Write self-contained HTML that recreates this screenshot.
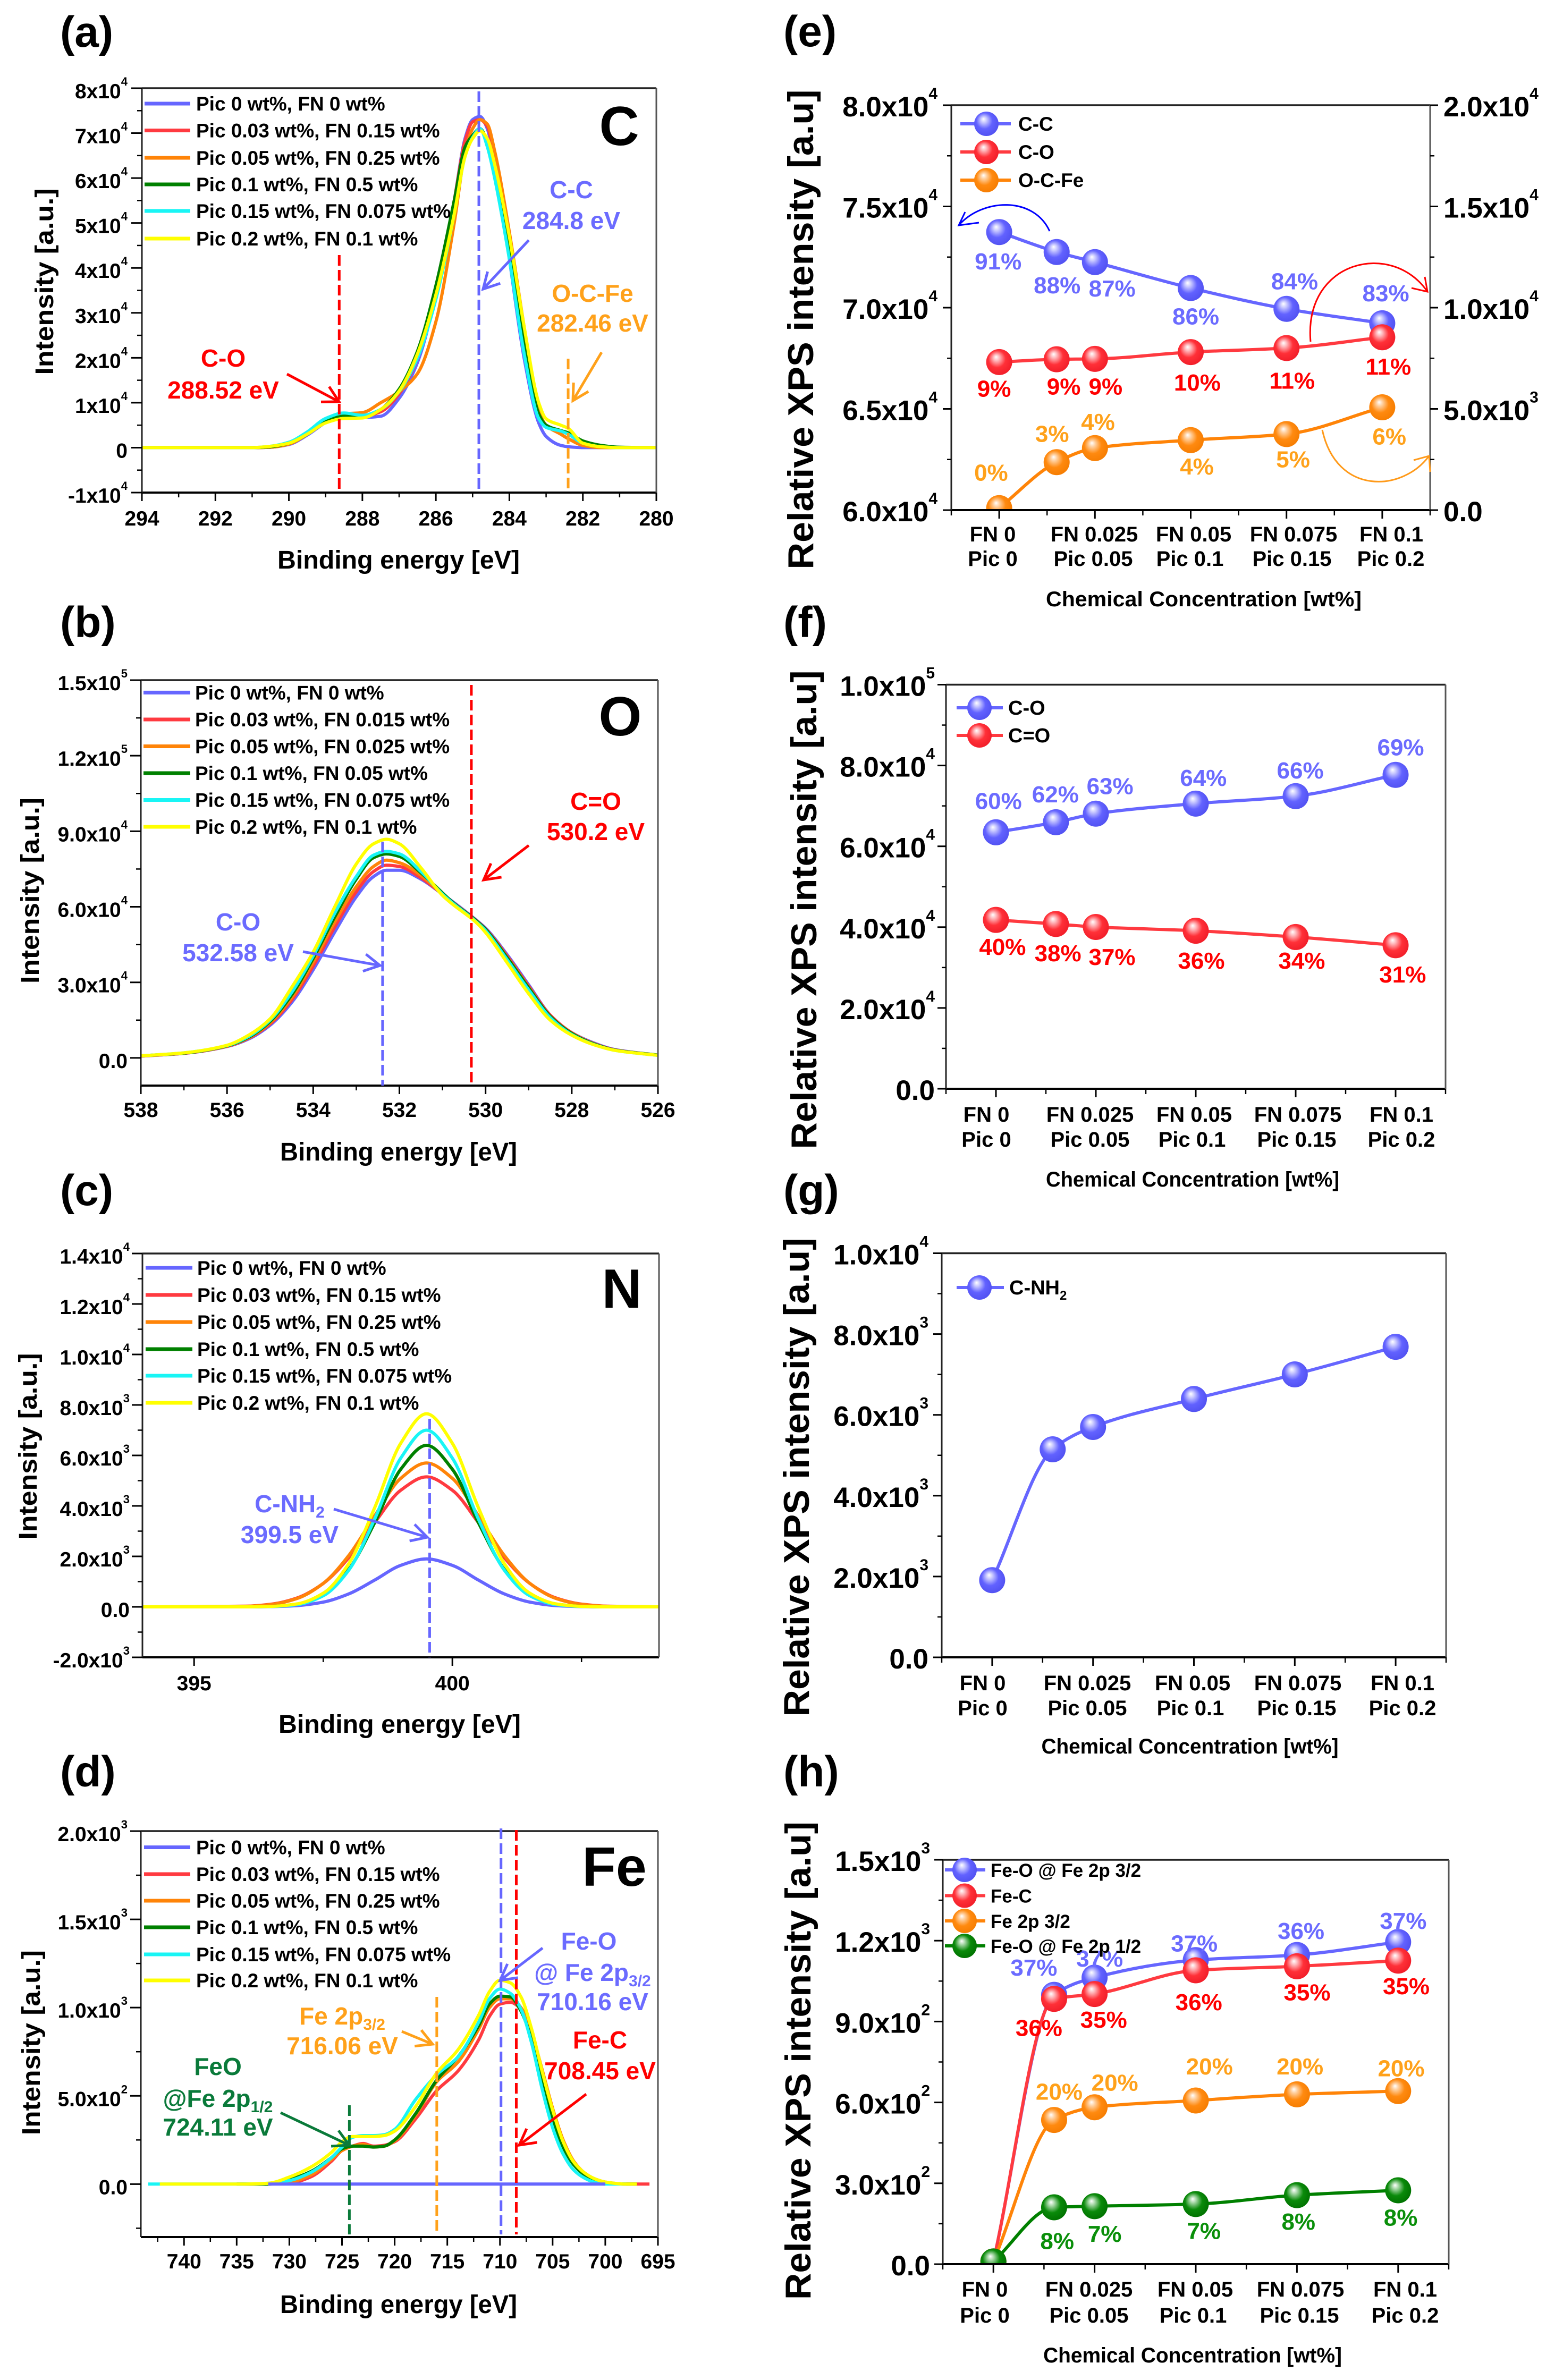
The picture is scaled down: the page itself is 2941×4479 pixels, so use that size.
<!DOCTYPE html>
<html lang="en">
<head>
<meta charset="utf-8">
<title>XPS spectra and relative intensity panels</title>
<style>
html,body{margin:0;padding:0;background:#fff;}
svg{display:block;font-family:"Liberation Sans",sans-serif;font-weight:bold;}
</style>
</head>
<body>
<svg id="fig" xmlns="http://www.w3.org/2000/svg" width="2941" height="4479" viewBox="0 0 2941 4479">
<defs>
<radialGradient id="sph-blue" cx="0.45" cy="0.45" r="0.6" fx="0.38" fy="0.3"><stop offset="0" stop-color="#ffffff"/><stop offset="0.2" stop-color="#c9c9ff"/><stop offset="0.55" stop-color="#6262ff"/><stop offset="1" stop-color="#5050f0"/></radialGradient>
<radialGradient id="sph-red" cx="0.45" cy="0.45" r="0.6" fx="0.38" fy="0.3"><stop offset="0" stop-color="#ffffff"/><stop offset="0.2" stop-color="#ffb8bc"/><stop offset="0.55" stop-color="#ff3038"/><stop offset="1" stop-color="#f01c28"/></radialGradient>
<radialGradient id="sph-orange" cx="0.45" cy="0.45" r="0.6" fx="0.38" fy="0.3"><stop offset="0" stop-color="#ffffff"/><stop offset="0.2" stop-color="#ffd0a0"/><stop offset="0.55" stop-color="#ff8a10"/><stop offset="1" stop-color="#f57c00"/></radialGradient>
<radialGradient id="sph-green" cx="0.45" cy="0.45" r="0.6" fx="0.38" fy="0.3"><stop offset="0" stop-color="#ffffff"/><stop offset="0.2" stop-color="#a8d8a8"/><stop offset="0.55" stop-color="#0a8a0a"/><stop offset="1" stop-color="#007000"/></radialGradient>
</defs>
<rect x="0" y="0" width="2941" height="4479" fill="#ffffff"/>
<g id="marks"></g>

<g font-size="82" fill="#000">
<text x="113" y="88">(a)</text>
<text x="113" y="1199">(b)</text>
<text x="113" y="2268">(c)</text>
<text x="113" y="3362">(d)</text>
<text x="1474" y="87">(e)</text>
<text x="1474" y="1199">(f)</text>
<text x="1474" y="2268">(g)</text>
<text x="1474" y="3362">(h)</text>
</g>

<g font-size="104" fill="#000" text-anchor="middle">
<text x="1165" y="273">C</text>
<text x="1167" y="1384">O</text>
<text x="1170" y="2461">N</text>
<text x="1156" y="3549">Fe</text>
</g>

<g fill="#000">
<g font-size="48" text-anchor="middle">
<text x="750" y="1070" textLength="456" lengthAdjust="spacingAndGlyphs">Binding energy [eV]</text>
<text x="750" y="2184" textLength="446" lengthAdjust="spacingAndGlyphs">Binding energy [eV]</text>
<text x="752" y="3261" textLength="456" lengthAdjust="spacingAndGlyphs">Binding energy [eV]</text>
<text x="750" y="4353" textLength="446" lengthAdjust="spacingAndGlyphs">Binding energy [eV]</text>
<text transform="translate(100,530) rotate(-90)" textLength="351" lengthAdjust="spacingAndGlyphs">Intensity [a.u.]</text>
<text transform="translate(73,1676) rotate(-90)" textLength="350" lengthAdjust="spacingAndGlyphs">Intensity [a.u.]</text>
<text transform="translate(69,2722) rotate(-90)" textLength="351" lengthAdjust="spacingAndGlyphs">Intensity [a.u.]</text>
<text transform="translate(75,3844) rotate(-90)" textLength="348" lengthAdjust="spacingAndGlyphs">Intensity [a.u.]</text>
</g>
<g font-size="68" text-anchor="middle">
<text transform="translate(1530,620) rotate(-90)" textLength="903" lengthAdjust="spacingAndGlyphs">Relative XPS intensity [a.u]</text>
<text transform="translate(1536,1712) rotate(-90)" textLength="901" lengthAdjust="spacingAndGlyphs">Relative XPS intensity [a.u]</text>
<text transform="translate(1522,2780) rotate(-90)" textLength="901" lengthAdjust="spacingAndGlyphs">Relative XPS intensity [a.u]</text>
<text transform="translate(1525,3878) rotate(-90)" textLength="900" lengthAdjust="spacingAndGlyphs">Relative XPS intensity [a.u]</text>
</g>
<g font-size="40" text-anchor="middle">
<text x="2265" y="1141" textLength="594" lengthAdjust="spacingAndGlyphs">Chemical Concentration [wt%]</text>
<text x="2244" y="2233" textLength="552" lengthAdjust="spacingAndGlyphs">Chemical Concentration [wt%]</text>
<text x="2239" y="3300" textLength="559" lengthAdjust="spacingAndGlyphs">Chemical Concentration [wt%]</text>
<text x="2244" y="4446" textLength="562" lengthAdjust="spacingAndGlyphs">Chemical Concentration [wt%]</text>
</g>
</g>

<g font-size="46" text-anchor="middle">
<g fill="#ff0000"><text x="420" y="690">C-O</text><text x="420" y="750">288.52 eV</text></g>
<g fill="#6b6bff"><text x="1075" y="373">C-C</text><text x="1075" y="431">284.8 eV</text></g>
<g fill="#ffa11a"><text x="1115" y="568">O-C-Fe</text><text x="1115" y="624">282.46 eV</text></g>
<g fill="#ff0000"><text x="1121" y="1524">C=O</text><text x="1121" y="1581">530.2 eV</text></g>
<g fill="#6b6bff"><text x="448" y="1751">C-O</text><text x="448" y="1809">532.58 eV</text></g>
<g fill="#6b6bff"><text x="545" y="2846">C-NH<tspan font-size="30" dy="10">2</tspan></text><text x="545" y="2904">399.5 eV</text></g>
<g fill="#6b6bff"><text x="1108" y="3669">Fe-O</text><text x="1115" y="3728">@ Fe 2p<tspan font-size="30" dy="10">3/2</tspan></text><text x="1115" y="3783">710.16 eV</text></g>
<g fill="#ff0000"><text x="1129" y="3855">Fe-C</text><text x="1129" y="3913">708.45 eV</text></g>
<g fill="#ffa11a"><text x="644" y="3810">Fe 2p<tspan font-size="30" dy="10">3/2</tspan></text><text x="644" y="3866">716.06 eV</text></g>
<g fill="#0a7a3a"><text x="410" y="3905">FeO</text><text x="410" y="3965">@Fe 2p<tspan font-size="30" dy="10">1/2</tspan></text><text x="410" y="4019">724.11 eV</text></g>
</g>

<g fill="none" stroke-width="3">
<path stroke="#0000ff" d="M1975 435C1945 369 1849 373 1804 424M1842 419L1804 424L1816 399"/>
<path stroke="#ff0000" d="M2466 643C2453 489 2620 452 2686 549M2656 542L2686 549L2681 521"/>
<path stroke="#ff9a1a" d="M2488 809C2515 933 2639 926 2689 858M2660 866L2689 858L2691 888"/>
</g>
<g id="arrows"></g>
</svg>

<script>
// Panel (a) C 1s
const aEnergy=[294,291,290.5,290,289.5,289,288.5,288,287.5,287,286.5,286,285.5,285.2,285,284.8,284.6,284.4,284,283.6,283.2,283,282.6,282.4,282,281.5,281,280];
const aBlue=[0,0,100,700,2800,5600,7500,6700,7000,11000,19000,34000,55000,69000,73000,73700,71000,63000,42000,20000,5500,2500,500,200,0,0,0,0];
const aRed=[0,0,100,800,3000,6000,7500,7000,8000,12000,20000,35000,55000,68500,72500,73000,71500,64000,45000,24000,8000,5000,3000,2000,600,50,0,0];
const aOrange=[0,0,100,800,3000,6000,7500,7800,10000,12500,16500,28000,50000,66000,71000,73000,72000,66000,48000,27000,8000,5000,3000,2000,500,0,0,0];
const aGreen=[0,0,200,1000,3000,6000,7200,6800,8500,13000,21500,36000,55000,67000,69500,71000,68000,61000,44000,24000,7500,5000,3800,3300,1500,500,100,0];
const aCyan=[0,0,300,1200,3500,6500,7700,7200,8500,12500,20000,33000,52000,65000,69000,71000,67000,60000,42000,21000,6500,4500,3700,3000,1000,200,0,0];
const aYellow=[0,0,300,1000,3000,5500,6500,6600,8500,12600,20900,34000,52000,65000,68800,70500,68800,63000,47000,27000,10000,6400,5000,4300,1000,200,0,0];
const aPeaks=[288.63,284.83,282.4];
const aXTicks=[294,292,290,288,286,284,282,280];
const aXMinor=[293,291,289,287,285,283,281];
const aYTicks=[-10000,0,10000,20000,30000,40000,50000,60000,70000,80000];
const aYLabels=['-1x10|4','0','1x10|4','2x10|4','3x10|4','4x10|4','5x10|4','6x10|4','7x10|4','8x10|4'];
const aYMinor=[-5000,5000,15000,25000,35000,45000,55000,65000,75000];
const aLegend=['Pic 0 wt%, FN 0 wt%','Pic 0.03 wt%, FN 0.15 wt%','Pic 0.05 wt%, FN 0.25 wt%','Pic 0.1 wt%, FN 0.5 wt%','Pic 0.15 wt%, FN 0.075 wt%','Pic 0.2 wt%, FN 0.1 wt%'];

// Panel (b) O 1s
const bEnergy=[538,537,536,535.5,535,534.5,534,533.5,533,532.6,532.3,532,531.5,531,530.8,530.2,530,529.5,529,528.5,528,527.5,527,526];
const bBlue=[700,1800,4500,7500,13000,22000,35000,50000,64000,72000,74500,74500,71000,65000,62500,54500,51500,41000,29000,17000,10000,6000,3300,1100];
const bRed=[700,1800,4600,7800,13500,23000,36500,52000,66000,74000,76500,76000,71500,65000,62300,54300,51200,40500,28500,17000,10000,5800,3200,1100];
const bOrange=[800,1900,4700,8000,14000,24000,38000,54000,68000,76000,78500,77500,72500,65000,62200,54200,51000,40000,28000,16500,9800,5700,3100,1100];
const bGreen=[800,1900,4800,8200,14500,25000,39500,56000,71000,79500,81000,80000,73500,65500,62300,54200,51000,39800,27800,16500,9700,5600,3100,1100];
const bCyan=[800,2000,4900,8500,15000,26000,40500,57500,72000,80500,82000,81000,74000,65000,62000,53800,50500,39000,27000,16000,9300,5400,3000,1000];
const bYellow=[800,2000,5000,9000,15500,28000,42000,60000,77000,85000,86800,85000,75500,64500,61500,53500,49800,37800,25500,15000,9000,5300,3000,1000];
const bPeaks=[532.39,530.33];
const bXTicks=[538,536,534,532,530,528,526];
const bXMinor=[537,535,533,531,529,527];
const bYTicks=[0,30000,60000,90000,120000,150000];
const bYLabels=['0.0','3.0x10|4','6.0x10|4','9.0x10|4','1.2x10|5','1.5x10|5'];
const bYMinor=[15000,45000,75000,105000,135000];
const bLegend=['Pic 0 wt%, FN 0 wt%','Pic 0.03 wt%, FN 0.015 wt%','Pic 0.05 wt%, FN 0.025 wt%','Pic 0.1 wt%, FN 0.05 wt%','Pic 0.15 wt%, FN 0.075 wt%','Pic 0.2 wt%, FN 0.1 wt%'];

// Panel (c) N 1s
const cEnergy=[394,396,396.5,397,397.5,398,398.5,399,399.5,400,400.5,401,401.5,402,402.5,403,404];
const cBlue=[0,0,10,51,188,517,1066,1645,1900,1645,1066,517,188,51,10,0,0];
const cRed=[0,26,108,355,927,1960,3350,4620,5150,4620,3350,1960,927,355,108,26,0];
const cOrange=[0,23,97,336,930,2050,3620,5090,5700,5090,3620,2050,930,336,97,23,0];
const cGreen=[0,0,20,113,483,1500,3350,5450,6400,5450,3350,1500,483,113,20,0,0];
const cCyan=[0,0,14,90,440,1470,3500,5890,7000,5890,3500,1470,440,90,14,0,0];
const cYellow=[0,0,20,120,540,1730,3950,6480,7650,6480,3950,1730,540,120,20,0,0];
const cPeaks=[399.56];
const cXTicks=[395,400];
const cXMinor=[397.5,402.5];
const cYTicks=[-2000,0,2000,4000,6000,8000,10000,12000,14000];
const cYLabels=['-2.0x10|3','0.0','2.0x10|3','4.0x10|3','6.0x10|3','8.0x10|3','1.0x10|4','1.2x10|4','1.4x10|4'];
const cYMinor=[-1000,1000,3000,5000,7000,9000,11000,13000];
const cLegend=['Pic 0 wt%, FN 0 wt%','Pic 0.03 wt%, FN 0.15 wt%','Pic 0.05 wt%, FN 0.25 wt%','Pic 0.1 wt%, FN 0.5 wt%','Pic 0.15 wt%, FN 0.075 wt%','Pic 0.2 wt%, FN 0.1 wt%'];

// Panel (d) Fe 2p
const n=null;
const dEnergy=[743.4,742.3,735,732,730,728,726,725,724,723,722,721,720,718,716,714,712,711,710,709,708,707,706,705,704,703,702,701,700,698,697,695.8];
const dBlue=[n,n,n,0,0,0,0,0,0,0,0,0,0,0,0,0,0,0,0,0,0,0,0,0,0,0,0,0,0,n,n,n];
const dRed=[n,n,n,0,5,40,130,190,215,230,215,220,240,370,530,640,820,950,1020,1030,990,850,640,420,240,125,60,28,10,0,0,0];
const dOrange=[n,n,0,0,10,50,140,190,215,225,210,215,245,390,580,690,880,1000,1050,1050,1000,860,650,430,250,130,65,30,12,0,0,n];
const dGreen=[n,n,0,0,25,70,150,200,215,215,210,215,250,400,590,720,900,1020,1065,1060,980,820,590,370,210,110,55,25,10,0,0,n];
const dCyan=[0,0,0,5,20,65,150,210,265,275,275,280,310,480,620,720,920,1050,1105,1080,990,800,540,320,170,80,35,10,0,0,n,n];
const dYellow=[n,0,0,5,40,95,180,240,270,270,270,275,300,440,630,760,960,1090,1155,1140,1060,880,640,420,240,125,65,30,12,0,0,n];
const dPeaks=[724.3,716,709.9,708.45];
const dXTicks=[740,735,730,725,720,715,710,705,700,695];
const dXMinor=[742.5,737.5,732.5,727.5,722.5,717.5,712.5,707.5,702.5,697.5];
const dYTicks=[0,500,1000,1500,2000];
const dYLabels=['0.0','5.0x10|2','1.0x10|3','1.5x10|3','2.0x10|3'];
const dYMinor=[-250,250,750,1250,1750];
const dLegend=['Pic 0 wt%, FN 0 wt%','Pic 0.03 wt%, FN 0.15 wt%','Pic 0.05 wt%, FN 0.25 wt%','Pic 0.1 wt%, FN 0.5 wt%','Pic 0.15 wt%, FN 0.075 wt%','Pic 0.2 wt%, FN 0.1 wt%'];

// Concentration panels: shared x values
const concentration=[0,0.015,0.025,0.05,0.075,0.1];
const concTicks=[0,0.025,0.05,0.075,0.1];
const concMinor=[-0.0125,0.0125,0.0375,0.0625,0.0875,0.1125];
const concLine1=['FN 0','FN 0.025','FN 0.05','FN 0.075','FN 0.1'];
const concLine2=['Pic 0','Pic 0.05','Pic 0.1','Pic 0.15','Pic 0.2'];

// Panel (e)
const eCC=[73735,72750,72250,70970,69940,69230];
const eCO=[7312,7450,7470,7806,8004,8538];
const eOCFe=[100,2370,3063,3458,3755,5079];
const eCCPct=['91%','88%','87%','86%','84%','83%'];
const eCOPct=['9%','9%','9%','10%','11%','11%'];
const eOCFePct=['0%','3%','4%','4%','5%','6%'];
const eYTicks=[60000,65000,70000,75000,80000];
const eYLabels=['6.0x10|4','6.5x10|4','7.0x10|4','7.5x10|4','8.0x10|4'];
const eYMinor=[62500,67500,72500,77500];
const eRTicks=[0,5000,10000,15000,20000];
const eRLabels=['0.0','5.0x10|3','1.0x10|4','1.5x10|4','2.0x10|4'];
const eRMinor=[2500,7500,12500,17500];

// Panel (f)
const fCO=[63470,65960,68080,70570,72420,77680];
const fCdO=[41790,40780,40040,39110,37550,35520];
const fCOPct=['60%','62%','63%','64%','66%','69%'];
const fCdOPct=['40%','38%','37%','36%','34%','31%'];
const fYTicks=[0,20000,40000,60000,80000,100000];
const fYLabels=['0.0','2.0x10|4','4.0x10|4','6.0x10|4','8.0x10|4','1.0x10|5'];
const fYMinor=[10000,30000,50000,70000,90000];

// Panel (g)
const gCNH2=[1910,5148,5701,6393,7002,7684];
const gYTicks=[0,2000,4000,6000,8000,10000];
const gYLabels=['0.0','2.0x10|3','4.0x10|3','6.0x10|3','8.0x10|3','1.0x10|4'];
const gYMinor=[1000,3000,5000,7000,9000];

// Panel (h)
const hFeO32=[10,999,1063,1128,1147,1195];
const hFeC=[10,984,1002,1090,1105,1126];
const hFe2p=[10,535,582,607,630,642];
const hFeO12=[10,211,215,223,256,274];
const hFeO32Pct=['','37%','37%','37%','36%','37%'];
const hFeCPct=['','36%','35%','36%','35%','35%'];
const hFe2pPct=['','20%','20%','20%','20%','20%'];
const hFeO12Pct=['','8%','7%','7%','8%','8%'];
const hYTicks=[0,300,600,900,1200,1500];
const hYLabels=['0.0','3.0x10|2','6.0x10|2','9.0x10|2','1.2x10|3','1.5x10|3'];
const hYMinor=[150,450,750,1050,1350];

const SVGNS='http://www.w3.org/2000/svg';
const root=document.getElementById('marks');
const COL={blue:'#6666ff',red:'#ff3a40',orange:'#ff8408',green:'#008000',cyan:'#19f5f5',yellow:'#ffff00'};
const TXT={blue:'#6b6bff',red:'#ff0000',orange:'#ffa11a',green:'#0a8f0a'};
function mk(tag,parent,attrs,name){
  const el=document.createElementNS(SVGNS,tag);
  for(const k in attrs){el.setAttribute(k,attrs[k]);}
  
  
  parent.appendChild(el);
  return el;
}
function tickText(parent,x,y,label,size,anchor,name){
  const t=mk('text',parent,{x:x,y:y,'font-size':size,'text-anchor':anchor,fill:'#000'},name);
  const parts=label.split('|');
  t.appendChild(document.createTextNode(parts[0]));
  if(parts[1]){
    const s=mk('tspan',t,{'font-size':Math.round(size*0.57),dy:-Math.round(size*0.62)},name+'-exponent');
    s.textContent=parts[1];
  }
  return t;
}
function linearScale(d0,d1,r0,r1){return v=>r0+(v-d0)/(d1-d0)*(r1-r0);}
function smoothPath(pts){
  // monotone cubic through the points
  const m=pts.length;
  if(m<2)return '';
  const dx=[],sl=[];
  for(let i=0;i<m-1;i++){dx[i]=pts[i+1][0]-pts[i][0];sl[i]=(pts[i+1][1]-pts[i][1])/dx[i];}
  const tg=[sl[0]];
  for(let i=1;i<m-1;i++){
    if(sl[i-1]*sl[i]<=0){tg[i]=0;}
    else{const w1=2*dx[i]+dx[i-1],w2=dx[i]+2*dx[i-1];tg[i]=(w1+w2)/(w1/sl[i-1]+w2/sl[i]);}
  }
  tg[m-1]=sl[m-2];
  let d='M'+pts[0][0].toFixed(1)+' '+pts[0][1].toFixed(1);
  for(let i=0;i<m-1;i++){
    const h=dx[i]/3;
    d+='C'+(pts[i][0]+h).toFixed(1)+' '+(pts[i][1]+tg[i]*h).toFixed(1)+' '+(pts[i+1][0]-h).toFixed(1)+' '+(pts[i+1][1]-tg[i+1]*h).toFixed(1)+' '+pts[i+1][0].toFixed(1)+' '+pts[i+1][1].toFixed(1);
  }
  return d;
}
function drawFrame(g,f,name){
  mk('line',g,{x1:f.l,y1:f.t,x2:f.r,y2:f.t,stroke:'#222','stroke-width':3.5},name+'-top-axis');
  mk('line',g,{x1:f.l,y1:f.b,x2:f.r,y2:f.b,stroke:'#000','stroke-width':4},name+'-bottom-axis');
  mk('line',g,{x1:f.l,y1:f.t,x2:f.l,y2:f.b,stroke:'#222','stroke-width':3},name+'-left-axis');
  mk('line',g,{x1:f.r,y1:f.t,x2:f.r,y2:f.b,stroke:'#555','stroke-width':3},name+'-right-axis');
}
function spectrum(c){
  const g=mk('g',root,{},'spectrum-panel-'+c.id);
  const f=c.f;
  const X=linearScale(c.xd[0],c.xd[1],f.l,f.r);
  const Y=linearScale(c.yd[0],c.yd[1],f.b,f.t);
  const names=['pic-0','pic-0-03','pic-0-05','pic-0-1','pic-0-15','pic-0-2'];
  const colors=['blue','red','orange','green','cyan','yellow'];
  (c.order||[0,1,2,3,4,5]).forEach(i=>{
    const pts=[];
    c.series[i].forEach((v,j)=>{if(v!==null)pts.push([X(c.energy[j]),Y(v)]);});
    mk('path',g,{d:smoothPath(pts),fill:'none',stroke:COL[colors[i]],'stroke-width':6,'stroke-linejoin':'round'},'curve-'+c.id+'-'+names[i]);
  });
  drawFrame(g,f,'frame-'+c.id);
  c.xTicks.forEach(v=>{
    mk('line',g,{x1:X(v),x2:X(v),y1:f.b,y2:f.b+16,stroke:'#000','stroke-width':3},'x-tick-'+c.id);
    const t=mk('text',g,{x:X(v),y:f.b+c.xLabelDy,'font-size':39,'text-anchor':'middle',fill:'#000'},'x-tick-label-'+c.id);
    t.textContent=String(v);
  });
  c.xMinor.forEach(v=>{mk('line',g,{x1:X(v),x2:X(v),y1:f.b,y2:f.b+9,stroke:'#000','stroke-width':2.5},'x-minor-tick-'+c.id);});
  c.yTicks.forEach((v,i)=>{
    mk('line',g,{x1:f.l-20,x2:f.l,y1:Y(v),y2:Y(v),stroke:'#000','stroke-width':3},'y-tick-'+c.id);
    tickText(g,c.yLabelX,Y(v)+19,c.yLabels[i],39,'end','y-tick-label-'+c.id);
  });
  c.yMinor.forEach(v=>{mk('line',g,{x1:f.l-9,x2:f.l,y1:Y(v),y2:Y(v),stroke:'#000','stroke-width':2.5},'y-minor-tick-'+c.id);});
  c.legend.forEach((txt,i)=>{
    mk('line',g,{x1:c.lg.x1,x2:c.lg.x2,y1:c.lg.y[i],y2:c.lg.y[i],stroke:COL[colors[i]],'stroke-width':7},'legend-line-'+c.id+'-'+names[i]);
    const t=mk('text',g,{x:c.lg.tx,y:c.lg.y[i]+13,'font-size':37,fill:'#000'},'legend-entry-'+c.id+'-'+names[i]);
    t.textContent=txt;
  });
  (c.dashes||[]).forEach(d=>{
    mk('line',g,{x1:X(d.v),x2:X(d.v),y1:d.y0,y2:f.b+(d.over||0),stroke:d.c,'stroke-width':5,'stroke-dasharray':'20 8'},'dashed-peak-'+d.n);
  });
}
function sphere(g,x,y,color,name,r){
  mk('circle',g,{cx:x,cy:y,r:r||24.5,fill:'url(#sph-'+color+')'},name);
}
function concPanel(c){
  const g=mk('g',root,{},'intensity-panel-'+c.id);
  const f=c.f;
  const X=linearScale(-0.0125,0.1125,f.l,f.r);
  const Y=linearScale(c.yd[0],c.yd[1],f.b,f.t);
  const YR=c.yr?linearScale(c.yr[0],c.yr[1],f.b,f.t):Y;
  const clip=mk('clipPath',g,{id:'clip-'+c.id},'clip-'+c.id);
  mk('rect',clip,{x:f.l-4,y:f.t-40,width:f.r-f.l+8,height:f.b-f.t+40},'clip-rect-'+c.id);
  const mg=mk('g',g,{'clip-path':'url(#clip-'+c.id+')'},'series-group-'+c.id);
  c.series.forEach(s=>{
    const sc=s.right?YR:Y;
    const pts=s.v.map((v,i)=>[X(concentration[i]),sc(v)]);
    mk('path',mg,{d:smoothPath(pts),fill:'none',stroke:COL[s.c],'stroke-width':6},'line-'+s.n);
    pts.forEach((p,i)=>{sphere(mg,p[0],p[1],s.c,'point-'+s.n+'-'+i);});
  });
  drawFrame(g,f,'frame-'+c.id);
  concTicks.forEach(v=>{mk('line',g,{x1:X(v),x2:X(v),y1:f.b,y2:f.b+16,stroke:'#000','stroke-width':3},'x-tick-'+c.id);});
  concMinor.forEach(v=>{mk('line',g,{x1:X(v),x2:X(v),y1:f.b,y2:f.b+10,stroke:'#000','stroke-width':2.5},'x-minor-tick-'+c.id);});
  concLine1.forEach((s,i)=>{
    const t=mk('text',g,{x:c.xl1[i],y:c.base1,'font-size':40,'text-anchor':'middle',fill:'#000'},'x-label-fn-'+c.id);
    t.textContent=s;
    const u=mk('text',g,{x:c.xl2[i],y:c.base2,'font-size':40,'text-anchor':'middle',fill:'#000'},'x-label-pic-'+c.id);
    u.textContent=concLine2[i];
  });
  c.yTicks.forEach((v,i)=>{
    mk('line',g,{x1:f.l-16,x2:f.l,y1:Y(v),y2:Y(v),stroke:'#000','stroke-width':3},'y-tick-'+c.id);
    tickText(g,c.yLabelX,Y(v)+21,c.yLabels[i],53,'end','y-tick-label-'+c.id);
  });
  c.yMinor.forEach(v=>{mk('line',g,{x1:f.l-8,x2:f.l,y1:Y(v),y2:Y(v),stroke:'#000','stroke-width':2.5},'y-minor-tick-'+c.id);});
  if(c.yr){
    c.rTicks.forEach((v,i)=>{
      mk('line',g,{x1:f.r,x2:f.r+15,y1:YR(v),y2:YR(v),stroke:'#000','stroke-width':3},'right-y-tick-'+c.id);
      tickText(g,f.r+25,YR(v)+21,c.rLabels[i],53,'start','right-y-tick-label-'+c.id);
    });
    c.rMinor.forEach(v=>{mk('line',g,{x1:f.r,x2:f.r+8,y1:YR(v),y2:YR(v),stroke:'#000','stroke-width':2.5},'right-y-minor-tick-'+c.id);});
  }
  // percent labels, placed relative to their markers
  const ox=0.951;
  c.series.forEach(s=>{
    if(!s.pct)return;
    const sc=s.right?YR:Y;
    s.pct.forEach((lab,i)=>{
      if(!lab)return;
      const off=s.off[i];
      const t=mk('text',g,{x:X(concentration[i])+off[0]*ox,y:sc(s.v[i])+off[1]*c.oy+16,'font-size':44,'text-anchor':'middle',fill:TXT[s.c]},'percent-label-'+s.n+'-'+i);
      t.textContent=lab;
    });
  });
  c.legend.forEach(l=>{
    mk('line',g,{x1:c.lg.x1,x2:c.lg.x2,y1:l.y,y2:l.y,stroke:COL[l.c],'stroke-width':6},'legend-line-'+l.n);
    sphere(g,c.lg.mx,l.y,l.c,'legend-marker-'+l.n,23);
    const t=mk('text',g,{x:c.lg.tx,y:l.y+13,'font-size':c.lg.fs,fill:'#000'},'legend-entry-'+l.n);
    t.appendChild(document.createTextNode(l.t));
    if(l.sub){
      const s=mk('tspan',t,{'font-size':24,dy:10},'legend-subscript-'+l.n);
      s.textContent=l.sub;
    }
  });
}

spectrum({id:'a',f:{l:267,r:1235,t:166,b:927},xd:[294,280],yd:[-10000,80000],energy:aEnergy,
  series:[aBlue,aRed,aOrange,aGreen,aCyan,aYellow],xTicks:aXTicks,xMinor:aXMinor,yTicks:aYTicks,yLabels:aYLabels,yMinor:aYMinor,
  xLabelDy:62,yLabelX:240,legend:aLegend,lg:{x1:272,x2:358,tx:369,y:[195,245.5,297,347,397,449]},
  dashes:[{v:aPeaks[0],y0:480,c:'#ff0000',n:'c-o-a'},{v:aPeaks[1],y0:172,c:'#6666ff',n:'c-c-a'},{v:aPeaks[2],y0:675,c:'#ffa11a',n:'o-c-fe-a'}]});
spectrum({id:'b',f:{l:265,r:1238,t:1280,b:2043},xd:[538,526],yd:[-11000,150000],energy:bEnergy,
  series:[bBlue,bRed,bOrange,bGreen,bCyan,bYellow],xTicks:bXTicks,xMinor:bXMinor,yTicks:bYTicks,yLabels:bYLabels,yMinor:bYMinor,
  xLabelDy:59,yLabelX:240,legend:bLegend,lg:{x1:270,x2:358,tx:367,y:[1303.4,1354,1404.5,1455,1505.5,1556]},
  dashes:[{v:bPeaks[0],y0:1584,c:'#6666ff',n:'c-o-b'},{v:bPeaks[1],y0:1289,c:'#ff0000',n:'c-double-o-b'}]});
spectrum({id:'c',f:{l:268,r:1240,t:2359,b:3119},xd:[394,404],yd:[-2000,14000],energy:cEnergy,
  series:[cBlue,cRed,cOrange,cGreen,cCyan,cYellow],xTicks:cXTicks,xMinor:cXMinor,yTicks:cYTicks,yLabels:cYLabels,yMinor:cYMinor,
  xLabelDy:62,yLabelX:244,legend:cLegend,lg:{x1:274,x2:362,tx:371,y:[2386,2437,2488,2539,2589,2640]},
  dashes:[{v:cPeaks[0],y0:2670,c:'#6666ff',n:'c-nh2'}]});
spectrum({id:'d',f:{l:265,r:1238,t:3446,b:4210},xd:[744.1,695],yd:[-300,2000],energy:dEnergy,
  series:[dBlue,dRed,dOrange,dGreen,dCyan,dYellow],order:[1,2,3,4,5,0],xTicks:dXTicks,xMinor:dXMinor,yTicks:dYTicks,yLabels:dYLabels,yMinor:dYMinor,
  xLabelDy:59,yLabelX:240,legend:dLegend,lg:{x1:271,x2:358,tx:369,y:[3476.5,3527,3577,3627,3678,3727]},
  dashes:[{v:dPeaks[0],y0:3962,c:'#0a7a3a',n:'feo',over:-5},{v:dPeaks[1],y0:3758,c:'#ffa11a',n:'fe-2p',over:-5},{v:dPeaks[2],y0:3441,c:'#6666ff',n:'fe-o',over:-5},{v:dPeaks[3],y0:3444,c:'#ff0000',n:'fe-c',over:-5}]});

concPanel({id:'e',f:{l:1790,r:2691,t:198,b:960},yd:[60000,80000],yr:[0,20000],oy:0.7526,
  series:[
    {n:'c-c',c:'blue',v:eCC,pct:eCCPct,off:[[-2,72],[1,82],[34,65],[10,70],[16,-70],[7,-76]]},
    {n:'c-o',c:'red',v:eCO,right:true,pct:eCOPct,off:[[-10,65],[14,67],[21,68],[13,75],[11,80],[12,72]]},
    {n:'o-c-fe',c:'orange',v:eOCFe,right:true,pct:eOCFePct,off:[[-16,-90],[-9,-72],[6,-67],[12,65],[13,62],[14,72]]}],
  yTicks:eYTicks,yLabels:eYLabels,yMinor:eYMinor,rTicks:eRTicks,rLabels:eRLabels,rMinor:eRMinor,yLabelX:1764,
  xl1:[1868,2059,2246,2434,2618],xl2:[1868,2057,2239,2431,2617],base1:1019,base2:1065,
  lg:{x1:1807,x2:1902,mx:1856,tx:1916,fs:37},
  legend:[{n:'c-c',c:'blue',t:'C-C',y:233},{n:'c-o',c:'red',t:'C-O',y:286},{n:'o-c-fe',c:'orange',t:'O-C-Fe',y:339}]});
concPanel({id:'f',f:{l:1780,r:2720,t:1288.5,b:2049},yd:[0,100000],oy:0.7015,
  series:[
    {n:'f-c-o',c:'blue',v:fCO,pct:fCOPct,off:[[5,-85],[-1,-76],[28,-75],[15,-70],[9,-70],[10,-75]]},
    {n:'f-c-double-o',c:'red',v:fCdO,pct:fCdOPct,off:[[13,71],[4,77],[32,79],[11,79],[12,62],[14,77]]}],
  yTicks:fYTicks,yLabels:fYLabels,yMinor:fYMinor,yLabelX:1759,
  xl1:[1856,2051,2247,2442,2637],xl2:[1856,2051,2243,2440,2637],base1:2111,base2:2158,
  lg:{x1:1800,x2:1887,mx:1843,tx:1897,fs:38},
  legend:[{n:'f-c-o',c:'blue',t:'C-O',y:1332},{n:'f-c-double-o',c:'red',t:'C=O',y:1384}]});
concPanel({id:'g',f:{l:1772,r:2721,t:2358.5,b:3119},yd:[0,10000],oy:0.7015,
  series:[{n:'c-nh2',c:'blue',v:gCNH2}],
  yTicks:gYTicks,yLabels:gYLabels,yMinor:gYMinor,yLabelX:1747,
  xl1:[1849,2046,2244,2442,2639],xl2:[1849,2046,2240,2440,2639],base1:3181,base2:3228,
  lg:{x1:1800,x2:1889,mx:1843,tx:1899,fs:38},
  legend:[{n:'c-nh2',c:'blue',t:'C-NH',sub:'2',y:2423}]});
concPanel({id:'h',f:{l:1774,r:2726,t:3500,b:4261},yd:[0,1500],oy:0.7647,
  series:[
    {n:'fe-o-3-2',c:'blue',v:hFeO32,pct:hFeO32Pct,off:[[0,0],[-40,-68],[10,-48],[-3,-42],[8,-60],[10,-53]]},
    {n:'fe-c',c:'red',v:hFeC,pct:hFeCPct,off:[[0,0],[-30,70],[18,62],[6,77],[20,63],[16,62]]},
    {n:'fe-2p-3-2',c:'orange',v:hFe2p,pct:hFe2pPct,off:[[0,0],[10,-71],[40,-62],[27,-85],[6,-70],[6,-57]]},
    {n:'fe-o-1-2',c:'green',v:hFeO12,pct:hFeO12Pct,off:[[0,0],[6,82],[20,67],[16,65],[3,64],[5,66]]}],
  yTicks:hYTicks,yLabels:hYLabels,yMinor:hYMinor,yLabelX:1750,
  xl1:[1853,2049,2249,2447,2644],xl2:[1853,2049,2245,2445,2644],base1:4322,base2:4371,
  lg:{x1:1778,x2:1854,mx:1815,tx:1864,fs:35},
  legend:[{n:'fe-o-3-2',c:'blue',t:'Fe-O @ Fe 2p 3/2',y:3519},{n:'fe-c',c:'red',t:'Fe-C',y:3567.5},{n:'fe-2p-3-2',c:'orange',t:'Fe 2p 3/2',y:3615},{n:'fe-o-1-2',c:'green',t:'Fe-O @ Fe 2p 1/2',y:3662}]});

// Callout arrows for the peak annotations
const arrowLayer=document.getElementById('arrows');
function arrow(x1,y1,x2,y2,color,name,head){
  const h=head||34;
  const a=Math.atan2(y2-y1,x2-x1);
  const hx1=x2-h*Math.cos(a-0.5),hy1=y2-h*Math.sin(a-0.5);
  const hx2=x2-h*Math.cos(a+0.5),hy2=y2-h*Math.sin(a+0.5);
  const d='M'+x1+' '+y1+'L'+x2+' '+y2+'M'+hx1.toFixed(1)+' '+hy1.toFixed(1)+'L'+x2+' '+y2+'L'+hx2.toFixed(1)+' '+hy2.toFixed(1);
  mk('path',arrowLayer,{d:d,fill:'none',stroke:color,'stroke-width':5},name);
}
arrow(540,704,638,756,'#ff0000','arrow-c-o-a');
arrow(995,452,909,544,'#6666ff','arrow-c-c-a');
arrow(1132,663,1078,754,'#ffa11a','arrow-o-c-fe-a');
arrow(995,1591,910,1656,'#ff0000','arrow-c-double-o-b');
arrow(570,1791,715,1817,'#6666ff','arrow-c-o-b');
arrow(628,2840,804,2893,'#6666ff','arrow-c-nh2');
arrow(1021,3666,941,3727,'#6666ff','arrow-fe-o');
arrow(1103,3941,977,4037,'#ff0000','arrow-fe-c');
arrow(756,3823,814,3847,'#ffa11a','arrow-fe-2p');
arrow(528,3976,657,4037,'#0a7a3a','arrow-feo');
</script>
</body>
</html>
